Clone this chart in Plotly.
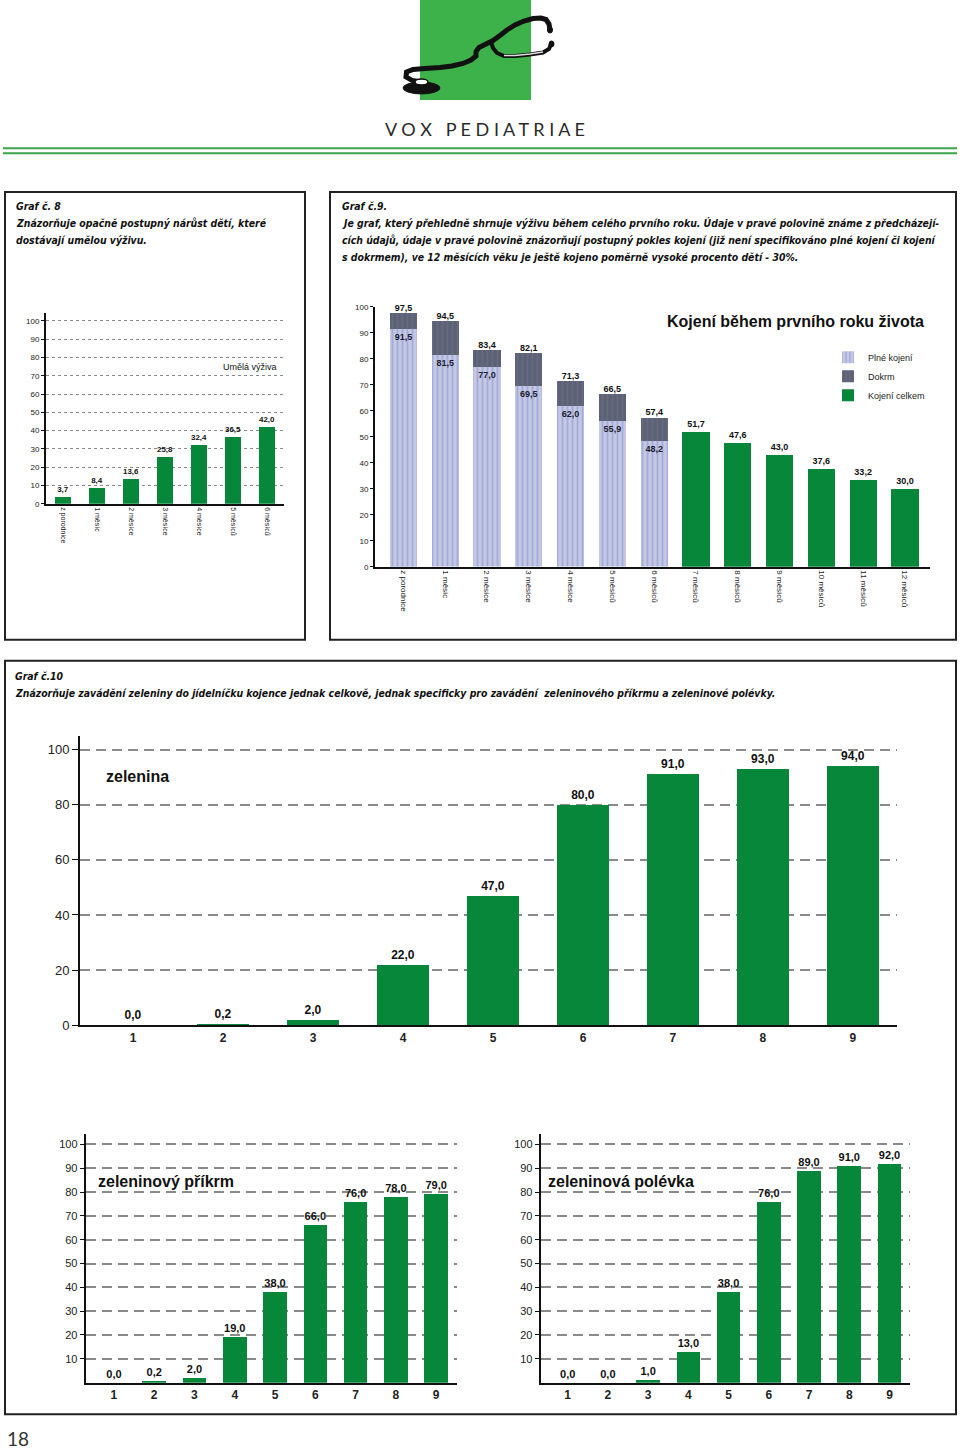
import plotly.graph_objects as go

W, H = 960, 1449
# small empirical vertical correction for the capture (measured on previous renders)
VA, VB = 0.9922, 4.0
def X(p): return p / W
def Y(p): return 1 - ((p - VB) / VA) / H

# ---------------- data ----------------
g8_categories = ["z porodnice", "1 měsíc", "2 měsíce", "3 měsíce", "4 měsíce", "5 měsíců", "6 měsíců"]
g8_umela_vyziva = [3.7, 8.4, 13.6, 25.8, 32.4, 36.5, 42.0]

g9_categories = ["z porodnice", "1 měsíc", "2 měsíce", "3 měsíce", "4 měsíce", "5 měsíců", "6 měsíců",
                 "7 měsíců", "8 měsíců", "9 měsíců", "10 měsíců", "11 měsíců", "12 měsíců"]
g9_kojeni_celkem = [97.5, 94.5, 83.4, 82.1, 71.3, 66.5, 57.4, 51.7, 47.6, 43.0, 37.6, 33.2, 30.0]
g9_plne_kojeni = [91.5, 81.5, 77.0, 69.5, 62.0, 55.9, 48.2]

g10_categories = ["1", "2", "3", "4", "5", "6", "7", "8", "9"]
g10_zelenina = [0.0, 0.2, 2.0, 22.0, 47.0, 80.0, 91.0, 93.0, 94.0]
g10_prikrm = [0.0, 0.2, 2.0, 19.0, 38.0, 66.0, 76.0, 78.0, 79.0]
g10_polevka = [0.0, 0.0, 1.0, 13.0, 38.0, 76.0, 89.0, 91.0, 92.0]

g8_yticks = list(range(0, 101, 10))
g9_yticks = list(range(0, 101, 10))
zel_yticks = [0, 20, 40, 60, 80, 100]
sub_yticks = list(range(10, 101, 10))

# ---------------- styles ----------------
GREEN = "#07873a"
CHART_FONT = "Liberation Sans, Arial, sans-serif"
TXT_FONT = "DejaVu Sans Condensed, Liberation Sans Narrow, Arial Narrow, sans-serif"
n9 = len(g9_plne_kojeni)
g9_dokrm = [round(t - p, 1) for t, p in zip(g9_kojeni_celkem[:n9], g9_plne_kojeni)]

fig = go.Figure()

# Graf 8
fig.add_trace(go.Bar(x=g8_categories, y=g8_umela_vyziva, xaxis="x", yaxis="y",
                     marker=dict(color=GREEN, line=dict(width=0)), width=0.47,
                     texttemplate="<b>%{y:.1f}</b>", textposition="outside",
                     textfont=dict(size=8, color="#111", family=CHART_FONT),
                     cliponaxis=False, showlegend=False))

# Graf 9
fig.add_trace(go.Bar(x=g9_categories[:n9], y=g9_plne_kojeni, xaxis="x2", yaxis="y2",
                     name="Plné kojení", width=0.65,
                     marker=dict(color="#bcc3e0", line=dict(width=0),
                                 pattern=dict(shape="|", fgcolor="#8190d4", bgcolor="#c4c8e2",
                                              size=5, solidity=0.35)),
                     texttemplate="<b>%{y:.1f}</b>", textposition="inside", insidetextanchor="end",
                     textangle=0, constraintext="none",
                     textfont=dict(size=9, color="#1c1c30", family=CHART_FONT)))
fig.add_trace(go.Bar(x=g9_categories[:n9], y=g9_dokrm, xaxis="x2", yaxis="y2",
                     name="Dokrm", width=0.65,
                     marker=dict(color="#5c6378", line=dict(width=0),
                                 pattern=dict(shape="|", fgcolor="#7c7088", bgcolor="#5a6276",
                                              size=5, solidity=0.3)),
                     textposition="none"))
fig.add_trace(go.Bar(x=g9_categories[n9:], y=g9_kojeni_celkem[n9:], xaxis="x2", yaxis="y2",
                     name="Kojení celkem", width=0.65,
                     marker=dict(color=GREEN, line=dict(width=0)),
                     texttemplate="<b>%{y:.1f}</b>", textposition="outside", cliponaxis=False,
                     textfont=dict(size=9, color="#111", family=CHART_FONT)))
fig.add_trace(go.Scatter(x=g9_categories[:n9], y=g9_kojeni_celkem[:n9], xaxis="x2", yaxis="y2",
                         mode="text", texttemplate="<b>%{y:.1f}</b>", textposition="top center",
                         textfont=dict(size=9, color="#111", family=CHART_FONT),
                         cliponaxis=False, showlegend=False))

# Graf 10
for vals, xa, ya, fs in [(g10_zelenina, "x3", "y3", 12), (g10_prikrm, "x4", "y4", 11),
                         (g10_polevka, "x5", "y5", 11)]:
    fig.add_trace(go.Bar(x=g10_categories, y=vals, xaxis=xa, yaxis=ya,
                         marker=dict(color=GREEN, line=dict(width=0)),
                         width=0.585, texttemplate="<b>%{y:.1f}</b>", textposition="outside",
                         textfont=dict(size=fs, color="#111", family=CHART_FONT),
                         cliponaxis=False, showlegend=False))

def xax(d0, d1, rng, anchor, angle=0, size=12, bold=False):
    return dict(domain=[X(d0), X(d1)], anchor=anchor, type="category", range=rng,
                showline=True, linecolor="#111", linewidth=2, ticks="", showgrid=False,
                zeroline=False, tickangle=angle, fixedrange=True,
                tickfont=dict(size=size, color="#222", family=CHART_FONT, weight="bold" if bold else "normal"))

def yax(top, bottom, rng, anchor, tickvals, grid=True, dash="10px,6px", gw=1.5, size=12, ticklen=4):
    return dict(domain=[Y(bottom), Y(top)], anchor=anchor, range=rng, tickvals=tickvals,
                showline=True, linecolor="#111", linewidth=2, ticks="outside", ticklen=ticklen,
                tickcolor="#111", showgrid=grid, gridcolor="#8a8a8a", gridwidth=gw, griddash=dash,
                zeroline=False, fixedrange=True,
                tickfont=dict(size=size, color="#222", family=CHART_FONT))

annotations = []
def txt(x, y, s, size=10.4, family=TXT_FONT, color="#111", bold=False, italic=False, xanchor="left"):
    annotations.append(dict(x=X(x), y=Y(y), xref="paper", yref="paper", text=s, showarrow=False,
                            xanchor=xanchor, yanchor="middle",
                            font=dict(size=size, family=family, color=color,
                                      weight="bold" if bold else "normal",
                                      style="italic" if italic else "normal")))

# header texts
txt(485, 129, "V O X   P E D I A T R I A E", size=18, family="Lato, Open Sans, sans-serif",
    color="#2a2a2a", xanchor="center")
txt(5, 1439, "18", size=19, family="Lato, Open Sans, sans-serif", color="#333")

# box texts
txt(14, 206, "Graf č. 8", bold=True, italic=True)
txt(14, 223, "Znázorňuje opačně postupný nárůst dětí, které", bold=True, italic=True)
txt(14, 240, "dostávají umělou výživu.", bold=True, italic=True)
txt(340, 206, "Graf č.9.", bold=True, italic=True)
txt(340, 223, "Je graf, který přehledně shrnuje výživu během celého prvního roku. Údaje v pravé polovině známe z předcházejí-", bold=True, italic=True)
txt(340, 240, "cích údajů, údaje v pravé polovině znázorňují postupný pokles kojení (již není specifikováno plné kojení či kojení", bold=True, italic=True)
txt(340, 257, "s dokrmem), ve 12 měsících věku je ještě kojeno poměrně vysoké procento dětí - 30%.", bold=True, italic=True)
txt(13, 676, "Graf č.10", bold=True, italic=True)
txt(13, 693, "Znázorňuje zavádění zeleniny do jídelníčku kojence jednak celkově, jednak specificky pro zavádění  zeleninového příkrmu a zeleninové polévky.", bold=True, italic=True)

# chart labels
txt(221, 367, "Umělá výživa", size=9, family=CHART_FONT)
txt(665, 322, "Kojení během prvního roku života", size=16, family=CHART_FONT, bold=True)
txt(104, 777, "zelenina", size=16, family=CHART_FONT, bold=True)
txt(96, 1182, "zeleninový příkrm", size=16, family=CHART_FONT, bold=True)
txt(546, 1182, "zeleninová polévka", size=16, family=CHART_FONT, bold=True)

# shapes
shapes = []
def rect(x0, y0, x1, y1, line="#222", lw=2, fill=None, layer="above"):
    shapes.append(dict(type="rect", xref="paper", yref="paper", x0=X(x0), x1=X(x1), y0=Y(y1), y1=Y(y0),
                       line=dict(color=line, width=lw), fillcolor=fill, layer=layer))

rect(5, 192, 305, 640)
rect(330, 192, 956, 640)
rect(5, 661, 956, 1415)
# logo
rect(420, 0, 531, 100, line="#3db14a", lw=0, fill="#3db14a", layer="below")
for yy in (148.3, 153.3):
    shapes.append(dict(type="line", xref="paper", yref="paper", x0=X(3), x1=X(957), y0=Y(yy), y1=Y(yy),
                       line=dict(color="#3aa54a", width=2)))

def path(pts):
    return "M " + " L ".join(f"{X(a):.5f},{Y(b):.5f}" for a, b in pts)

tube = [(423, 82), (412, 80.5), (406, 77), (406.5, 72), (413, 69.5), (425, 68.5), (440, 67.5),
        (452, 66), (463, 63.5), (471, 60), (476, 56), (476, 51.5), (479, 47.5), (486, 44),
        (493, 40.5), (500, 35.5), (507, 30), (515, 25), (524, 21), (533, 18.5), (541, 18),
        (546, 19.5), (549, 24), (550, 30)]
shapes.append(dict(type="path", xref="paper", yref="paper", path=path(tube),
                   line=dict(color="#111", width=5)))
branch = [(491, 42), (493, 48), (497, 53), (504, 56), (515, 56), (530, 54.5), (543, 52.5), (549, 49), (551, 44)]
shapes.append(dict(type="path", xref="paper", yref="paper", path=path(branch),
                   line=dict(color="#111", width=4)))
branch2 = [(504, 55.5), (515, 55.5), (530, 54), (543, 52)]
shapes.append(dict(type="path", xref="paper", yref="paper", path=path(branch2),
                   line=dict(color="#dddddd", width=1.5)))
shapes.append(dict(type="circle", xref="paper", yref="paper", x0=X(403), x1=X(440), y0=Y(94), y1=Y(82),
                   fillcolor="#111", line=dict(color="#111", width=1)))
shapes.append(dict(type="circle", xref="paper", yref="paper", x0=X(415), x1=X(428), y0=Y(85), y1=Y(79),
                   fillcolor="#ffffff", line=dict(color="#111", width=1.5)))
for cx, cy in [(550, 30), (551.5, 44)]:
    shapes.append(dict(type="circle", xref="paper", yref="paper", x0=X(cx - 2.5), x1=X(cx + 2.5),
                       y0=Y(cy + 3), y1=Y(cy - 3), fillcolor="#111", line=dict(color="#111", width=1)))

fig.update_layout(
    width=W, height=H, margin=dict(l=0, r=0, t=0, b=0, pad=0),
    paper_bgcolor="white", plot_bgcolor="rgba(0,0,0,0)",
    barmode="stack", separators=", ",
    font=dict(family=CHART_FONT, color="#222"),
    xaxis=xax(46, 284, [-0.5, 6.5], "y", angle=90, size=7),
    yaxis=yax(313, 504, [0, 104.4], "x", g8_yticks, dash="3px,3px", gw=1, size=8, ticklen=3),
    xaxis2=xax(375, 930, [-0.68, 12.6], "y2", angle=90, size=8),
    yaxis2=yax(307, 567, [0, 100], "x2", g9_yticks, grid=False, size=8, ticklen=3),
    xaxis3=xax(80, 897, [-0.59, 8.49], "y3", size=12, bold=True),
    yaxis3=yax(736.7, 1025.7, [0, 104.8], "x3", zel_yticks, size=13, ticklen=6),
    xaxis4=xax(85.7, 456.7, [-0.70, 8.51], "y4", size=12, bold=True),
    yaxis4=yax(1135, 1383.3, [0, 104.2], "x4", sub_yticks, size=11, ticklen=4),
    xaxis5=xax(540.7, 910, [-0.67, 8.51], "y5", size=12, bold=True),
    yaxis5=yax(1135, 1383.3, [0, 104.2], "x5", sub_yticks, size=11, ticklen=4),
    legend=dict(x=X(828), y=Y(343), xanchor="left", yanchor="top", bgcolor="rgba(0,0,0,0)",
                font=dict(size=9, family=CHART_FONT, color="#222"), traceorder="normal",
                itemwidth=30, tracegroupgap=0),
    annotations=annotations, shapes=shapes,
)

css_fix = (
    "var de=document.documentElement, b=document.body;"
    "de.style.margin='0';de.style.padding='0';de.style.overflow='hidden';de.style.height='1449px';"
    "b.style.margin='0';b.style.padding='0';b.style.overflow='hidden';b.style.height='1449px';"
    "b.style.lineHeight='0';"
)
fig.write_html("out.html", config={"displayModeBar": False}, post_script=css_fix)
